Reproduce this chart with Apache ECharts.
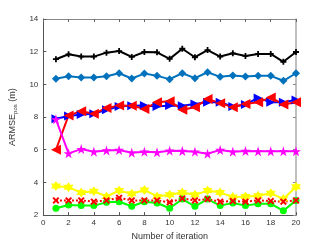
<!DOCTYPE html>
<html><head><meta charset="utf-8">
<script src="https://cdn.jsdelivr.net/npm/echarts@6/dist/echarts.min.js"></script>
<style>html,body{margin:0;padding:0;background:#fff}#c{width:327px;height:246px}</style>
</head><body><div id="c"></div>
<script>
const iterations = [1,2,3,4,5,6,7,8,9,10,11,12,13,14,15,16,17,18,19,20];
const xTicks = [0,2,4,6,8,10,12,14,16,18,20];
const yTicks = [2,4,6,8,10,12,14];
const blackVals = [11.54,11.84,11.7,11.7,11.94,12.04,11.68,11.98,11.96,11.56,12.18,11.66,12.1,11.7,11.9,11.74,11.86,11.86,11.38,11.98];
const steelVals = [10.34,10.5,10.42,10.42,10.5,10.68,10.36,10.66,10.52,10.32,10.68,10.38,10.74,10.46,10.54,10.48,10.52,10.52,10.22,10.68];
const blueTriVals = [7.9,8.06,8.16,8.2,8.44,8.65,8.69,8.7,8.65,8.7,8.69,8.8,8.9,8.9,8.65,8.77,9.17,8.9,8.9,9.05];
const redTriVals = [6.0,8.1,8.36,8.2,8.56,8.7,8.69,8.5,8.9,8.97,8.45,8.6,9.1,8.85,8.6,8.8,8.9,9.2,8.77,8.9];
const magentaVals = [7.86,5.78,6.04,5.88,5.96,5.98,5.82,5.88,5.84,5.94,5.92,5.88,5.76,5.98,5.88,5.92,5.9,5.9,5.9,5.9];
const yellowVals = [3.78,3.7,3.38,3.46,3.14,3.5,3.3,3.54,3.14,3.24,3.38,3.24,3.5,3.38,3.1,3.14,3.18,3.34,2.98,3.74];
const redXVals = [2.9,2.9,2.9,2.82,2.9,3.06,2.9,2.9,2.9,2.78,3.02,2.9,2.98,2.82,2.86,2.82,2.9,2.86,2.82,2.9];
const greenVals = [2.42,2.62,2.58,2.58,2.78,2.82,2.54,2.82,2.74,2.42,2.98,2.54,2.98,2.58,2.74,2.58,2.7,2.7,2.26,2.9];

const pent = 'path://M50 0 L61.2 34.5 L97.6 34.5 L68.2 55.9 L79.4 90.5 L50 69.1 L20.6 90.5 L31.8 55.9 L2.4 34.5 L38.8 34.5 Z';
const hexa = 'path://M50 0 L64.4 25 L93.3 25 L78.9 50 L93.3 75 L64.4 75 L50 100 L35.6 75 L6.7 75 L21.1 50 L6.7 25 L35.6 25 Z';
const xMark = 'path://M0 20 L20 0 L50 30 L80 0 L100 20 L70 50 L100 80 L80 100 L50 70 L20 100 L0 80 L30 50 Z';
const plusMark = 'path://M35 0 L65 0 L65 35 L100 35 L100 65 L65 65 L65 100 L35 100 L35 65 L0 65 L0 35 L35 35 Z';

function pts(v){ return iterations.map((x,i)=>[x,v[i]]); }
function ser(vals,color,symbol,size,rot,lineType){
  return {type:'line',data:pts(vals),symbol:symbol,symbolSize:size,symbolRotate:rot||0,
    lineStyle:{color:color,width:2,type:lineType||'solid'},itemStyle:{color:color},
    showSymbol:true,animation:false,z:2};
}
const font = '"Liberation Sans", Arial, sans-serif';
const chart = echarts.init(document.getElementById('c'));
const axCommon = {min:0,max:20,interval:2,type:'value'};
chart.setOption({
  animation:false,
  grid:{left:42,right:31,top:19,bottom:28},
  xAxis:[
    Object.assign({},axCommon,{position:'bottom',name:'Number of iteration',nameLocation:'middle',nameGap:16,
      nameTextStyle:{fontFamily:font,fontSize:9,color:'#333'},
      axisLine:{onZero:false,lineStyle:{color:'#555',width:1}},
      axisTick:{inside:true,length:3,lineStyle:{color:'#555'}},
      axisLabel:{fontFamily:font,fontSize:8,color:'#333',margin:4},
      splitLine:{show:false}}),
    Object.assign({},axCommon,{position:'top',
      axisLine:{onZero:false,lineStyle:{color:'#888',width:1}},
      axisTick:{inside:true,length:3,lineStyle:{color:'#666'}},
      axisLabel:{show:false},splitLine:{show:false}})
  ],
  yAxis:[
    {type:'value',min:2,max:14,interval:2,position:'left',
      name:'{a|ARMSE}{b|pos}{a| (m)}',nameLocation:'middle',nameGap:17,nameRotate:90,
      nameTextStyle:{rich:{a:{fontFamily:font,fontSize:9,color:'#333'},b:{fontFamily:font,fontSize:6,color:'#333',padding:[6,0,0,0]}}},
      axisLine:{onZero:false,lineStyle:{color:'#555',width:1}},
      axisTick:{inside:true,length:3,lineStyle:{color:'#555'}},
      axisLabel:{fontFamily:font,fontSize:8,color:'#333',margin:5},
      splitLine:{show:false}},
    {type:'value',min:2,max:14,interval:2,position:'right',
      axisLine:{onZero:false,lineStyle:{color:'#aaa',width:1.5}},
      axisTick:{inside:true,length:3,lineStyle:{color:'#888'}},
      axisLabel:{show:false},splitLine:{show:false}}
  ],
  series:[
    ser(blackVals,'#000000',plusMark,6),
    ser(steelVals,'#0072BD','diamond',8),
    ser(blueTriVals,'#0000FF','triangle',9,-90),
    ser(redTriVals,'#FF0000','triangle',10,90),
    ser(magentaVals,'#FF00FF',pent,10),
    ser(yellowVals,'#FFFF00',hexa,10),
    ser(greenVals,'#00FF00','circle',7),
    ser(redXVals,'#FF0000',xMark,7,0,'dotted')
  ]
});
</script></body></html>
